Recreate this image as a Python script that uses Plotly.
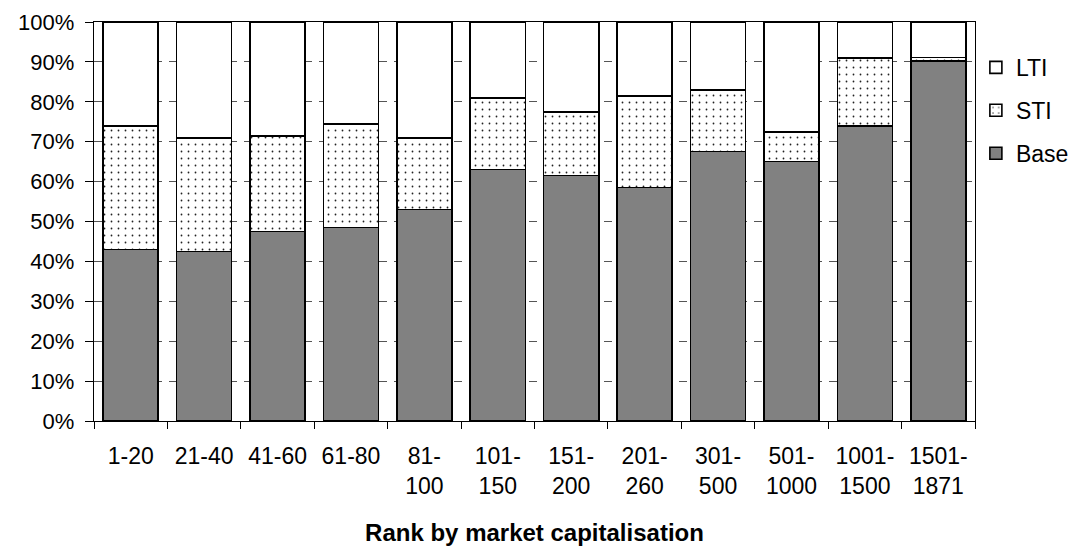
import plotly.graph_objects as go

# Rank bands by market capitalisation
categories = ["1-20", "21-40", "41-60", "61-80", "81-<br>100", "101-<br>150",
              "151-<br>200", "201-<br>260", "301-<br>500", "501-<br>1000",
              "1001-<br>1500", "1501-<br>1871"]

# Share of total pay (%) by component
base = [43.0, 42.5, 47.5, 48.5, 53.0, 63.0, 61.5, 58.5, 67.5, 65.0, 74.0, 90.3]
sti = [31.0, 28.5, 24.0, 26.0, 18.0, 18.0, 16.0, 23.0, 15.5, 7.5, 17.0, 0.8]
lti = [round(100 - b - s, 1) for b, s in zip(base, sti)]

y_ticks = list(range(0, 101, 10))
y_tick_text = [f"{v}%" for v in y_ticks]

FONT = "Liberation Sans, Arial, sans-serif"
outline = dict(color="black", width=1.6)

fig = go.Figure()
fig.add_trace(go.Bar(
    name="Base", x=categories, y=base, legendgroup="base", legendrank=3,
    marker=dict(color="#a0a0a0", line=outline,
                pattern=dict(shape=".", size=2, solidity=0.5,
                             fgcolor="#404040", bgcolor="#b4b4b4",
                             fillmode="replace")),
))
fig.add_trace(go.Bar(
    name="STI", x=categories, y=sti, legendgroup="sti", legendrank=2,
    marker=dict(color="white", line=outline,
                pattern=dict(shape=".", size=7, solidity=0.05,
                             fgcolor="#222222", bgcolor="white",
                             fillmode="replace")),
))
fig.add_trace(go.Bar(
    name="LTI", x=categories, y=lti, legendgroup="lti", legendrank=1,
    marker=dict(color="white", line=outline),
))

fig.update_layout(
    barmode="stack",
    bargap=0.25,
    width=1086, height=546,
    margin=dict(l=94, r=102, t=22, b=125),
    paper_bgcolor="white", plot_bgcolor="white",
    font=dict(family=FONT, size=22, color="black"),
    showlegend=True,
    legend=dict(x=1.001, y=0.94, xanchor="left", yanchor="top",
                traceorder="grouped", tracegroupgap=10,
                font=dict(size=23), itemwidth=30),
)

fig.update_xaxes(
    type="category", automargin=False,
    showline=True, linecolor="black", linewidth=1.4, mirror=True,
    ticks="outside", ticklen=7, tickcolor="black", tickwidth=1,
    tickson="boundaries",
    tickfont=dict(size=23),
    ticklabelstandoff=14,
    title=dict(text="<b>Rank by market capitalisation</b>",
               font=dict(size=24), standoff=26),
)
fig.update_yaxes(
    range=[0, 100], automargin=False,
    tickvals=y_ticks, ticktext=y_tick_text,
    showline=True, linecolor="black", linewidth=1.4, mirror=True,
    ticks="outside", ticklen=8, tickcolor="black", tickwidth=1,
    tickfont=dict(size=22),
    ticklabelstandoff=6,
    showgrid=True, gridcolor="#555555", gridwidth=1, griddash="8px,7px",
    zeroline=False,
)

fig.write_html("out.html")
